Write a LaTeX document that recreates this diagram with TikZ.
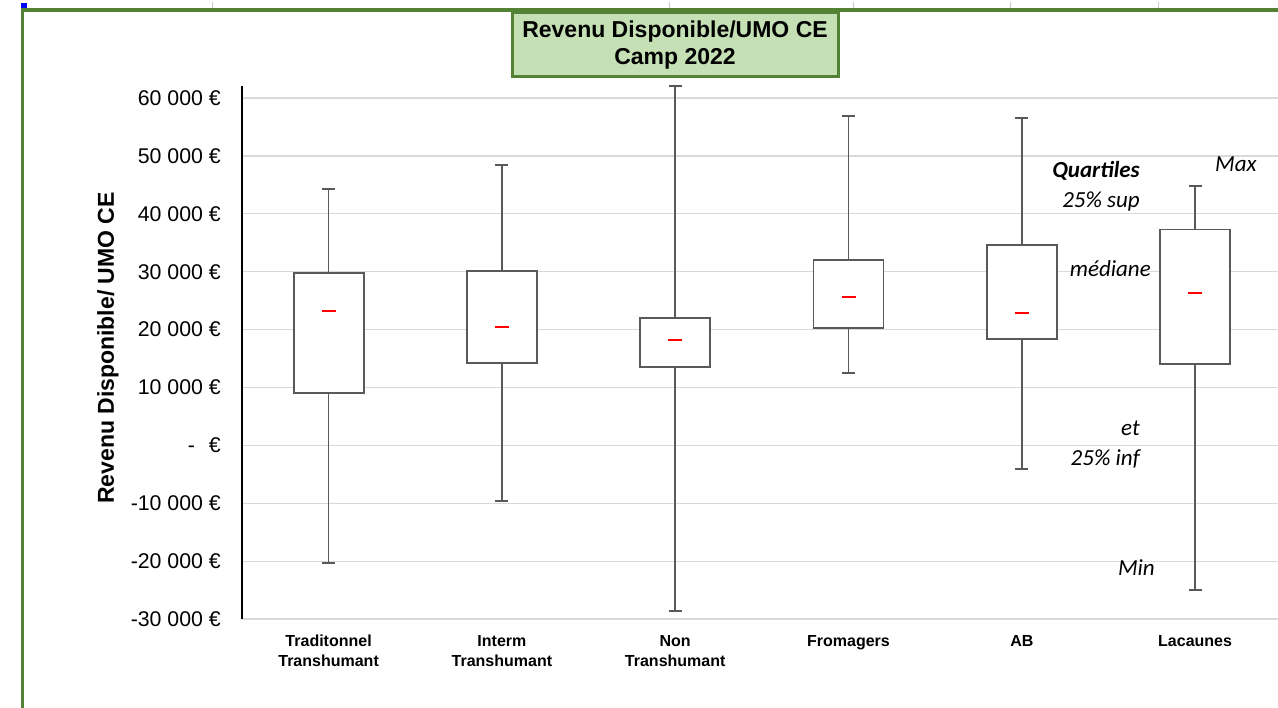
\documentclass[tikz,border=0pt]{standalone}
\usepackage{fontspec}
\setmainfont{Liberation Sans}
\newfontfamily\notefont{Carlito}
\definecolor{frameGreen}{RGB}{84,130,53}
\definecolor{titleFill}{RGB}{197,224,180}
\definecolor{boxGray}{RGB}{89,89,89}
\definecolor{gridGray}{RGB}{217,217,217}
\definecolor{cellGray}{RGB}{200,200,200}

\begin{document}
\begin{tikzpicture}[x=1pt,y=-1pt,
	grid line/.style={draw=gridGray, line width=1.3pt},
	whisk/.style={draw=boxGray, line width=1.7pt},
	cap line/.style={draw=boxGray, line width=2.4pt},
	quart box/.style={draw=boxGray, line width=1.8pt, fill=white},
	med line/.style={draw=red, line width=1.8pt},
	frame line/.style={draw=frameGreen, line width=3.2pt},
	ylab/.style={anchor=east, inner sep=0pt, font=\fontsize{21.3}{25}\selectfont},
	catlab/.style={anchor=north, align=center, inner sep=0pt, font=\fontsize{16}{20}\selectfont\bfseries},
	note/.style={anchor=base east, inner sep=0pt, font=\notefont\itshape\fontsize{23}{26}\selectfont},
	]
	\useasboundingbox (0,0) rectangle (1278,708);

	%Cell marks above the frame
	\draw [cellGray, line width=0.8pt] (212,2) -- (212,8) (669,2) -- (669,8) (853,2) -- (853,8) (1010,2) -- (1010,8) (1158,2) -- (1158,8);
	\fill [blue] (20.5,3.5) rectangle (26.5,9.5);

	%Chart area, values in k euros
	\begin{scope}[shift={(0,445.4)}, yscale=-5.79]
		%Grid lines and value labels
		\foreach \v/\t [count=\i] in {60/60 000 €, 50/50 000 €, 40/40 000 €, 30/30 000 €, 20/20 000 €, 10/10 000 €, 0/-\hspace{14pt}€, -10/-10 000 €, -20/-20 000 €, -30/-30 000 €}{
			\draw [grid line] (242,\v) -- (1278,\v);
			\node [ylab] (ylab\i) at (221,\v) {\t};
		}
		%Straight Lines: value axis
		\draw [black, line width=1.6pt] (242,62) -- (242,-30);

		%Shape: Box [Traditonnel Transhumant]
		\draw [whisk] (328.6,44.3) -- (328.6,29.8) (328.6,9.05) -- (328.6,-20.3);
		\draw [cap line] (322.1,44.3) -- (335.1,44.3) (322.1,-20.3) -- (335.1,-20.3);
		\draw [quart box] (293.6,9.05) rectangle (363.6,29.8);
		\draw [med line] (321.6,23.2) -- (335.6,23.2);

		%Shape: Box [Interm Transhumant]
		\draw [whisk] (501.9,48.4) -- (501.9,30.1) (501.9,14.2) -- (501.9,-9.6);
		\draw [cap line] (495.4,48.4) -- (508.4,48.4) (495.4,-9.6) -- (508.4,-9.6);
		\draw [quart box] (466.9,14.2) rectangle (536.9,30.1);
		\draw [med line] (494.9,20.4) -- (508.9,20.4);

		%Shape: Box [Non Transhumant]
		\draw [whisk] (675.2,62.1) -- (675.2,22.0) (675.2,13.5) -- (675.2,-28.6);
		\draw [cap line] (668.7,62.1) -- (681.7,62.1) (668.7,-28.6) -- (681.7,-28.6);
		\draw [quart box] (640.2,13.5) rectangle (710.2,22.0);
		\draw [med line] (668.2,18.25) -- (682.2,18.25);

		%Shape: Box [Fromagers]
		\draw [whisk] (848.5,56.9) -- (848.5,32.0) (848.5,20.3) -- (848.5,12.5);
		\draw [cap line] (842,56.9) -- (855,56.9) (842,12.5) -- (855,12.5);
		\draw [quart box] (813.5,20.3) rectangle (883.5,32.0);
		\draw [med line] (841.5,25.6) -- (855.5,25.6);

		%Shape: Box [AB]
		\draw [whisk] (1021.8,56.5) -- (1021.8,34.6) (1021.8,18.4) -- (1021.8,-4.1);
		\draw [cap line] (1015.3,56.5) -- (1028.3,56.5) (1015.3,-4.1) -- (1028.3,-4.1);
		\draw [quart box] (986.8,18.4) rectangle (1056.8,34.6);
		\draw [med line] (1014.8,22.9) -- (1028.8,22.9);

		%Shape: Box [Lacaunes]
		\draw [whisk] (1195.1,44.8) -- (1195.1,37.3) (1195.1,14.0) -- (1195.1,-25.0);
		\draw [cap line] (1188.6,44.8) -- (1201.6,44.8) (1188.6,-25.0) -- (1201.6,-25.0);
		\draw [quart box] (1160.1,14.0) rectangle (1230.1,37.3);
		\draw [med line] (1188.1,26.3) -- (1202.1,26.3);
	\end{scope}

	%Straight Lines: green frame
	\draw [frame line] (22.5,708) -- (22.5,10) -- (1278,10);

	% Text Node: title
	\node [draw=frameGreen, line width=3pt, fill=titleFill, minimum width=326pt, minimum height=64pt, align=center, inner sep=0pt, font=\fontsize{23}{27}\selectfont\bfseries] (title) at (675,45) {Revenu Disponible/UMO CE\\Camp 2022};
	% Text Node: axis title
	\node [rotate=90, inner sep=0pt, font=\fontsize{23}{27}\selectfont\bfseries] (ytitle) at (108,348) {Revenu Disponible/ UMO CE};

	% Text Node: categories
	\node [catlab] (cat1) at (328.6,635) {Traditonnel\\Transhumant};
	\node [catlab] (cat2) at (501.9,635) {Interm\\Transhumant};
	\node [catlab] (cat3) at (675.2,635) {Non\\Transhumant};
	\node [catlab] (cat4) at (848.5,635) {Fromagers};
	\node [catlab] (cat5) at (1021.8,635) {AB};
	\node [catlab] (cat6) at (1195.1,635) {Lacaunes};

	% Text Node: reading notes
	\node [note, font=\notefont\bfseries\itshape\fontsize{23}{26}\selectfont] (quart) at (1140,178) {Quartiles};
	\node [note] (sup) at (1140,208) {25\% sup};
	\node [note] (med) at (1151,277) {médiane};
	\node [note, anchor=base west] (maxl) at (1215,172) {Max};
	\node [note] (et) at (1140,436) {et};
	\node [note] (inf) at (1140,466) {25\% inf};
	\node [note] (minl) at (1155,576) {Min};

\end{tikzpicture}
\end{document}
